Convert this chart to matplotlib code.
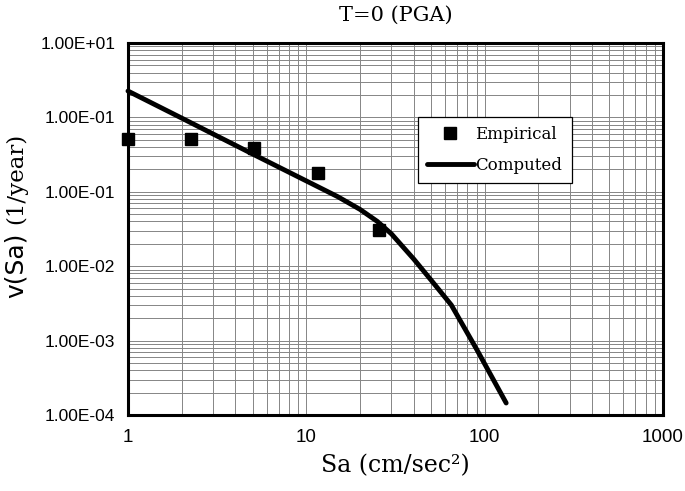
import numpy as np
import matplotlib
matplotlib.use('Agg')
import matplotlib.pyplot as plt
from matplotlib.ticker import FixedLocator, FixedFormatter, LogLocator, NullFormatter

# empirical rates
sa_emp = [1.0, 2.26, 5.09, 11.6, 25.6]
nu_emp = [0.513, 0.513, 0.388, 0.179, 0.0307]

# computed hazard curve
sa_cmp = [1, 2, 5, 10, 15, 20, 25, 30, 40, 50, 65, 90, 132]
nu_cmp = [2.26, 0.979, 0.322, 0.140, 0.0860, 0.058, 0.0400, 0.0272,
          0.0125, 0.00653, 0.00301, 7.7e-4, 1.45e-4]

y_ticks = [1e1, 1e0, 1e-1, 1e-2, 1e-3, 1e-4]
y_labels = ['1.00E+01', '1.00E-01', '1.00E-01', '1.00E-02', '1.00E-03', '1.00E-04']
x_ticks = [1, 10, 100, 1000]
x_labels = ['1', '10', '100', '1000']

sans = ['Liberation Sans', 'DejaVu Sans']
serif = ['DejaVu Serif']


def main():
    fig = plt.figure(figsize=(6.85, 4.91), dpi=100)
    ax = fig.add_axes([128/685, 1-415/491, 535/685, 372/491])

    ax.set_xscale('log')
    ax.set_yscale('log')
    ax.set_xlim(1, 1000)
    ax.set_ylim(1e-4, 1e1)

    ax.plot(sa_emp, nu_emp, ls='none', marker='s', ms=8.5, color='black',
            label='Empirical', clip_on=False, zorder=4)
    ax.plot(sa_cmp, nu_cmp, color='black', lw=3.5, label='Computed',
            solid_capstyle='round', clip_on=False, zorder=3)

    ax.yaxis.set_major_locator(FixedLocator(y_ticks))
    ax.yaxis.set_major_formatter(FixedFormatter(y_labels))
    ax.xaxis.set_major_locator(FixedLocator(x_ticks))
    ax.xaxis.set_major_formatter(FixedFormatter(x_labels))
    for a in (ax.xaxis, ax.yaxis):
        a.set_minor_locator(LogLocator(base=10, subs=np.arange(2, 10), numticks=20))
        a.set_minor_formatter(NullFormatter())

    ax.grid(True, which='both', color='#858585', lw=0.7)
    ax.set_axisbelow(True)
    ax.tick_params(which='both', length=0)
    ax.tick_params(axis='y', pad=9)
    ax.tick_params(axis='x', pad=10)
    for lab in ax.get_yticklabels():
        lab.set_family(sans)
        lab.set_fontsize(12.5)
    for lab in ax.get_xticklabels():
        lab.set_family(sans)
        lab.set_fontsize(13.5)

    for s in ax.spines.values():
        s.set_linewidth(2.2)
        s.set_color('black')

    ax.set_title('T=0 (PGA)', family=serif, fontsize=15, pad=16)
    ax.set_xlabel('Sa (cm/sec\u00b2)', family=serif, fontsize=17, labelpad=6)

    # y label: sans "v(Sa)" followed by serif "(1/year)"
    fig.text(16/685, 1-265/491, 'v(Sa)', family=['DejaVu Sans'], fontsize=18,
             rotation=90, ha='center', va='center')
    fig.text(16/685, 1-178/491, '(1/year)', family=serif, fontsize=16.5,
             rotation=90, ha='center', va='center')

    leg = ax.legend(loc='upper left', bbox_to_anchor=(0.542, 0.801),
                    borderaxespad=0, fancybox=False, shadow=False,
                    prop={'family': serif, 'size': 12},
                    handlelength=2.8, handletextpad=0.1, labelspacing=0.8,
                    borderpad=0.55, framealpha=1)
    leg.get_frame().set_edgecolor('black')
    leg.get_frame().set_linewidth(0.9)

    fig.savefig('out.png', dpi=100)


if __name__ == '__main__':
    main()
